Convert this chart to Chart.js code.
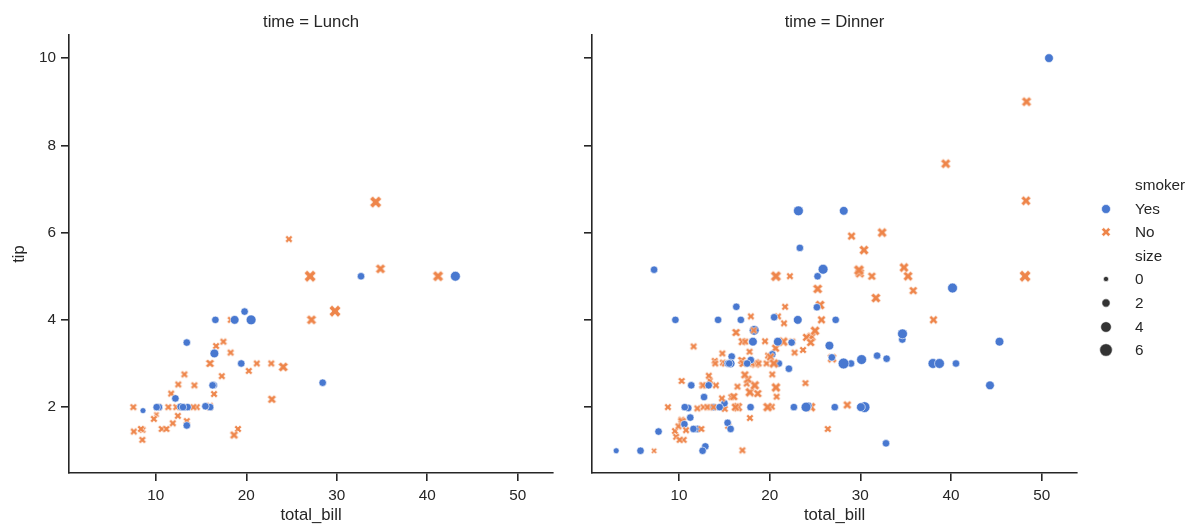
<!DOCTYPE html>
<html>
<head>
<meta charset="utf-8">
<script src="https://cdn.jsdelivr.net/npm/chart.js@4/dist/chart.umd.min.js"></script>
<style>
  html, body { margin: 0; padding: 0; background: #fff; }
  #wrap { position: relative; width: 1195px; height: 526px; overflow: hidden; }
  canvas { position: absolute; top: 0; }
  #lunch { left: 0; }
  #dinner { left: 560px; }
  #legend { position: absolute; left: 0; top: 0; width: 1195px; height: 526px; pointer-events: none;
            font-family: "Liberation Sans", Arial, sans-serif; font-size: 15.3px; color: #262626; }
  .row { position: absolute; left: 1135px; height: 20px; line-height: 20px; white-space: nowrap; }
  .mark { position: absolute; left: 1096px; width: 20px; height: 20px; }
</style>
</head>
<body>
<div id="wrap">
  <canvas id="lunch" width="560" height="526"></canvas>
  <canvas id="dinner" width="525" height="526"></canvas>
  <div id="legend"></div>
</div>
<script>
// tips: one entry per party
const totalBill = [
  16.99,10.34,21.01,23.68,24.59,25.29,8.77,26.88,15.04,14.78,
  10.27,35.26,15.42,18.43,14.83,21.58,10.33,16.29,16.97,20.65,
  17.92,20.29,15.77,39.42,19.82,17.81,13.37,12.69,21.70,19.65,
  9.55,18.35,15.06,20.69,17.78,24.06,16.31,16.93,18.69,31.27,
  16.04,17.46,13.94,9.68,30.40,18.29,22.23,32.40,28.55,18.04,
  12.54,10.29,34.81,9.94,25.56,19.49,38.01,26.41,11.24,48.27,
  20.29,13.81,11.02,18.29,17.59,20.08,16.45,3.07,20.23,15.01,
  12.02,17.07,26.86,25.28,14.73,10.51,17.92,27.20,22.76,17.29,
  19.44,16.66,10.07,32.68,15.98,34.83,13.03,18.28,24.71,21.16,
  28.97,22.49,5.75,16.32,22.75,40.17,27.28,12.03,21.01,12.46,
  11.35,15.38,44.30,22.42,20.92,15.36,20.49,25.21,18.24,14.31,
  14.00,7.25,38.07,23.95,25.71,17.31,29.93,10.65,12.43,24.08,
  11.69,13.42,14.26,15.95,12.48,29.80,8.52,14.52,11.38,22.82,
  19.08,20.27,11.17,12.26,18.26,8.51,10.33,14.15,16.00,13.16,
  17.47,34.30,41.19,27.05,16.43,8.35,18.64,11.87,9.78,7.51,
  14.07,13.13,17.26,24.55,19.77,29.85,48.17,25.00,13.39,16.49,
  21.50,12.66,16.21,13.81,17.51,24.52,20.76,31.71,10.59,10.63,
  50.81,15.81,7.25,31.85,16.82,32.90,17.89,14.48,9.60,34.63,
  34.65,23.33,45.35,23.17,40.55,20.69,20.90,30.46,18.15,23.10,
  15.69,19.81,28.44,15.48,16.58,7.56,10.34,43.11,13.00,13.51,
  18.71,12.74,13.00,16.40,20.53,16.47,26.59,38.73,24.27,12.76,
  30.06,25.89,48.33,13.27,28.17,12.90,28.15,11.59,7.74,30.14,
  12.16,13.42,8.58,15.98,13.42,16.27,10.09,20.45,13.28,22.12,
  24.01,15.69,11.61,10.77,15.53,10.07,12.60,32.83,35.83,29.03,
  27.18,22.67,17.82,18.78
];
const tip = [
  1.01,1.66,3.50,3.31,3.61,4.71,2.00,3.12,1.96,3.23,
  1.71,5.00,1.57,3.00,3.02,3.92,1.67,3.71,3.50,3.35,
  4.08,2.75,2.23,7.58,3.18,2.34,2.00,2.00,4.30,3.00,
  1.45,2.50,3.00,2.45,3.27,3.60,2.00,3.07,2.31,5.00,
  2.24,2.54,3.06,1.32,5.60,3.00,5.00,6.00,2.05,3.00,
  2.50,2.60,5.20,1.56,4.34,3.51,3.00,1.50,1.76,6.73,
  3.21,2.00,1.98,3.76,2.64,3.15,2.47,1.00,2.01,2.09,
  1.97,3.00,3.14,5.00,2.20,1.25,3.08,4.00,3.00,2.71,
  3.00,3.40,1.83,5.00,2.03,5.17,2.00,4.00,5.85,3.00,
  3.00,3.50,1.00,4.30,3.25,4.73,4.00,1.50,3.00,1.50,
  2.50,3.00,2.50,3.48,4.08,1.64,4.06,4.29,3.76,4.00,
  3.00,1.00,4.00,2.55,4.00,3.50,5.07,1.50,1.80,2.92,
  2.31,1.68,2.50,2.00,2.52,4.20,1.48,2.00,2.00,2.18,
  1.50,2.83,1.50,2.00,3.25,1.25,2.00,2.00,2.00,2.75,
  3.50,6.70,5.00,5.00,2.30,1.50,1.36,1.63,1.73,2.00,
  2.50,2.00,2.74,2.00,2.00,5.14,5.00,3.75,2.61,2.00,
  3.50,2.50,2.00,2.00,3.00,3.48,2.24,4.50,1.61,2.00,
  10.00,3.16,5.15,3.18,4.00,3.11,2.00,2.00,4.00,3.55,
  3.68,5.65,3.50,6.50,3.00,5.00,3.50,2.00,3.50,4.00,
  1.50,4.19,2.56,2.02,4.00,1.44,2.00,5.00,2.00,2.00,
  4.00,2.01,2.00,2.50,4.00,3.23,3.41,3.00,2.03,2.23,
  2.00,5.16,9.00,2.50,6.50,1.10,3.00,1.50,1.44,3.09,
  2.20,3.48,1.92,3.00,1.58,2.50,2.00,3.00,2.72,2.88,
  2.00,3.00,3.39,1.47,3.00,1.25,1.00,1.17,4.67,5.92,
  2.00,2.00,1.75,3.00
];
const smoker = [
  'N','N','N','N','N','N','N','N','N','N',
  'N','N','N','N','N','N','N','N','N','N',
  'N','N','N','N','N','N','N','N','N','N',
  'N','N','N','N','N','N','N','N','N','N',
  'N','N','N','N','N','N','N','N','N','N',
  'N','N','N','N','N','N','Y','N','Y','N',
  'Y','Y','Y','Y','N','N','N','Y','N','Y',
  'N','N','Y','Y','N','N','Y','N','N','N',
  'Y','N','N','Y','N','N','N','N','N','N',
  'Y','N','Y','Y','N','Y','Y','Y','Y','N',
  'Y','Y','Y','Y','N','Y','Y','Y','N','Y',
  'N','N','N','N','N','N','N','N','N','N',
  'N','N','N','N','N','N','N','N','N','N',
  'N','N','N','N','N','N','N','N','Y','N',
  'N','N','N','N','N','N','N','N','N','N',
  'N','N','N','N','N','N','N','N','N','N',
  'N','N','N','N','Y','N','N','N','Y','Y',
  'Y','Y','Y','Y','Y','Y','Y','Y','Y','Y',
  'Y','Y','Y','Y','Y','N','Y','Y','Y','Y',
  'Y','Y','Y','Y','Y','N','Y','Y','Y','Y',
  'Y','Y','Y','Y','Y','Y','Y','Y','Y','Y',
  'Y','Y','N','Y','Y','Y','Y','Y','Y','Y',
  'Y','Y','Y','N','Y','Y','Y','N','N','Y',
  'Y','Y','N','N','Y','N','Y','Y','N','N',
  'Y','Y','N','N'
];
const mealTime = [
  'D','D','D','D','D','D','D','D','D','D',
  'D','D','D','D','D','D','D','D','D','D',
  'D','D','D','D','D','D','D','D','D','D',
  'D','D','D','D','D','D','D','D','D','D',
  'D','D','D','D','D','D','D','D','D','D',
  'D','D','D','D','D','D','D','D','D','D',
  'D','D','D','D','D','D','D','D','D','D',
  'D','D','D','D','D','D','D','L','L','L',
  'L','L','L','L','L','L','L','L','L','L',
  'D','D','D','D','D','D','D','D','D','D',
  'D','D','D','D','D','D','D','D','D','D',
  'D','D','D','D','D','D','D','L','L','L',
  'L','L','L','L','L','L','L','L','L','L',
  'L','L','L','L','L','L','L','L','L','L',
  'L','L','L','L','L','L','L','L','L','L',
  'D','D','D','D','D','D','D','D','D','D',
  'D','D','D','D','D','D','D','D','D','D',
  'D','D','D','D','D','D','D','D','D','D',
  'D','D','D','D','D','D','D','D','D','D',
  'D','L','L','L','L','L','L','L','L','L',
  'L','L','L','L','L','L','D','D','D','D',
  'D','D','D','D','D','D','D','D','D','D',
  'L','L','L','L','L','L','L','D','D','D',
  'D','D','D','D','D','D','D','D','D','D',
  'D','D','D','D'
];
const partySize = [
  2,3,3,2,4,4,2,4,2,2, 2,4,2,4,2,2,3,3,3,3, 2,2,2,4,2,4,2,2,2,2,
  2,4,2,4,2,3,3,3,3,3, 3,2,2,2,4,2,2,4,3,2, 2,2,4,2,4,2,4,2,2,4,
  2,2,2,4,3,3,2,1,2,2, 2,3,2,2,2,2,2,4,2,2, 2,2,1,2,2,4,2,2,2,2,
  2,2,2,2,2,4,2,2,2,2, 2,2,3,2,2,2,2,2,2,2, 2,1,3,2,3,2,4,2,2,4,
  2,2,2,2,2,6,2,2,2,3, 2,2,2,2,2,2,2,2,2,2, 2,6,5,6,2,2,3,2,2,2,
  2,2,3,4,4,5,6,4,2,4, 4,2,3,2,2,3,2,4,2,2, 3,2,2,2,2,2,2,2,2,2,
  4,2,3,4,2,5,3,5,3,3, 2,2,2,2,2,2,2,4,2,2, 3,2,2,2,4,3,3,4,2,2,
  3,4,4,2,3,2,5,2,2,4, 2,2,1,3,2,2,2,4,2,2, 4,3,2,2,2,2,2,2,3,3,
  2,2,2,2
];

const xTicks = [10, 20, 30, 40, 50];
const yTicks = [2, 4, 6, 8, 10];
const sizeLegend = [0, 2, 4, 6];

const BLUE = '#4878d0';
const ORANGE = '#ee854a';
const INK = '#262626';
const FONT = '"Liberation Sans", Arial, sans-serif';

// party size -> marker diameter in px (area scales linearly with size)
const sizeMin = Math.min(...partySize), sizeMax = Math.max(...partySize);
function markerDiameter(s) {
  const area = 18 + (s - sizeMin) / (sizeMax - sizeMin) * 54;
  return Math.sqrt(Math.max(area, 0)) * 1.39;
}

// filled "X" marker with a thin white edge, cached per size/colour
const xCache = {};
function xPath(g, cx, cy, d) {
  const pts = [[-1,-2],[0,-1],[1,-2],[2,-1],[1,0],[2,1],[1,2],[0,1],[-1,2],[-2,1],[-1,0],[-2,-1]];
  g.beginPath();
  pts.forEach(([px, py], i) => {
    const X = cx + px * d / 4, Y = cy - py * d / 4;
    if (i) g.lineTo(X, Y); else g.moveTo(X, Y);
  });
  g.closePath();
}
function xMarker(d, color) {
  const key = d.toFixed(2) + color;
  if (xCache[key]) return xCache[key];
  const c = document.createElement('canvas');
  const n = Math.ceil(d) + 4;
  c.width = n; c.height = n;
  const g = c.getContext('2d');
  xPath(g, n / 2, n / 2, d);
  g.fillStyle = color;
  g.fill();
  g.strokeStyle = '#fff';
  g.lineWidth = 0.6;
  g.stroke();
  xCache[key] = c;
  return c;
}

function panelPoints(t) {
  const pts = [];
  for (let i = 0; i < totalBill.length; i++) {
    if (mealTime[i] === t) pts.push({ x: totalBill[i], y: tip[i], s: partySize[i], smoker: smoker[i] });
  }
  return pts;
}

const panelTitle = {
  id: 'panelTitle',
  afterDraw(chart, args, opts) {
    const { ctx, chartArea } = chart;
    ctx.save();
    ctx.font = '16.7px ' + FONT;
    ctx.fillStyle = INK;
    ctx.textAlign = 'center';
    ctx.textBaseline = 'alphabetic';
    ctx.fillText(opts.text, (chartArea.left + chartArea.right) / 2, 26.5);
    ctx.restore();
  }
};

function axisGrid() {
  return { drawOnChartArea: false, drawTicks: true, tickLength: 8, color: INK, lineWidth: 1.6 };
}

function makePanel(id, title, t, showYLabels, yWidth, padRight) {
  return new Chart(document.getElementById(id), {
    type: 'scatter',
    data: {
      datasets: [{
        data: panelPoints(t),
        pointStyle: c => c.raw.smoker === 'Y' ? 'circle' : xMarker(markerDiameter(c.raw.s), ORANGE),
        pointRadius: c => markerDiameter(c.raw.s) / 2,
        pointBackgroundColor: c => c.raw.smoker === 'Y' ? BLUE : ORANGE,
        pointBorderColor: '#fff',
        pointBorderWidth: 0.6,
        clip: false
      }]
    },
    options: {
      responsive: false,
      animation: false,
      events: [],
      layout: { padding: { top: 35, right: padRight, left: 0, bottom: 0 } },
      plugins: {
        legend: { display: false },
        tooltip: { enabled: false },
        panelTitle: { text: title }
      },
      scales: {
        x: {
          type: 'linear',
          min: 0.4,
          max: 53.9,
          afterBuildTicks: s => { s.ticks = xTicks.map(v => ({ value: v })); },
          afterFit: s => { s.height = 53; },
          grid: axisGrid(),
          border: { display: true, color: INK, width: 1.6 },
          ticks: { color: INK, font: { family: FONT, size: 15.3 }, padding: 6, maxRotation: 0 },
          title: { display: true, text: 'total_bill', color: INK,
                   font: { family: FONT, size: 16.7 }, padding: { top: 0, bottom: 1 } }
        },
        y: {
          type: 'linear',
          min: 0.49,
          max: 10.53,
          afterBuildTicks: s => { s.ticks = yTicks.map(v => ({ value: v })); },
          afterFit: s => { s.width = yWidth; },
          grid: axisGrid(),
          border: { display: true, color: INK, width: 1.6 },
          ticks: { display: showYLabels, color: INK, font: { family: FONT, size: 15.3 }, padding: 5 },
          title: { display: showYLabels, text: 'tip', color: INK,
                   font: { family: FONT, size: 16.7 }, padding: { top: 9.6, bottom: 0 } }
        }
      }
    },
    plugins: [panelTitle]
  });
}

makePanel('lunch', 'time = Lunch', 'L', true, 69, 7);
makePanel('dinner', 'time = Dinner', 'D', false, 32, 8);

// legend: smoker (colour + marker) and size
function svgMarker(kind, d, color) {
  const ns = 'http://www.w3.org/2000/svg';
  const svg = document.createElementNS(ns, 'svg');
  svg.setAttribute('width', 20);
  svg.setAttribute('height', 20);
  let el;
  if (kind === 'circle') {
    el = document.createElementNS(ns, 'circle');
    el.setAttribute('cx', 10); el.setAttribute('cy', 10); el.setAttribute('r', d / 2);
  } else {
    const pts = [[-1,-2],[0,-1],[1,-2],[2,-1],[1,0],[2,1],[1,2],[0,1],[-1,2],[-2,1],[-1,0],[-2,-1]];
    el = document.createElementNS(ns, 'polygon');
    el.setAttribute('points', pts.map(([px, py]) => (10 + px * d / 4) + ',' + (10 - py * d / 4)).join(' '));
  }
  el.setAttribute('fill', color);
  el.setAttribute('stroke', '#fff');
  el.setAttribute('stroke-width', 0.6);
  svg.appendChild(el);
  return svg;
}

// legend dots are a touch larger than the plotted ones
function legendDiameter(s) {
  return Math.max(markerDiameter(s) + 0.8, 5.2);
}

const legend = document.getElementById('legend');
const rows = [
  { text: 'smoker' },
  { text: 'Yes', kind: 'circle', d: 9, color: BLUE },
  { text: 'No', kind: 'x', d: 9, color: ORANGE },
  { text: 'size' }
].concat(sizeLegend.map(s => ({ text: String(s), kind: 'circle', d: legendDiameter(s), color: '#333333' })));

rows.forEach((r, i) => {
  const cy = 185 + i * 23.6;
  const label = document.createElement('div');
  label.className = 'row';
  label.style.top = (cy - 10) + 'px';
  label.textContent = r.text;
  legend.appendChild(label);
  if (r.kind) {
    const m = document.createElement('div');
    m.className = 'mark';
    m.style.top = (cy - 10) + 'px';
    m.appendChild(svgMarker(r.kind, r.d, r.color));
    legend.appendChild(m);
  }
});
</script>
</body>
</html>
